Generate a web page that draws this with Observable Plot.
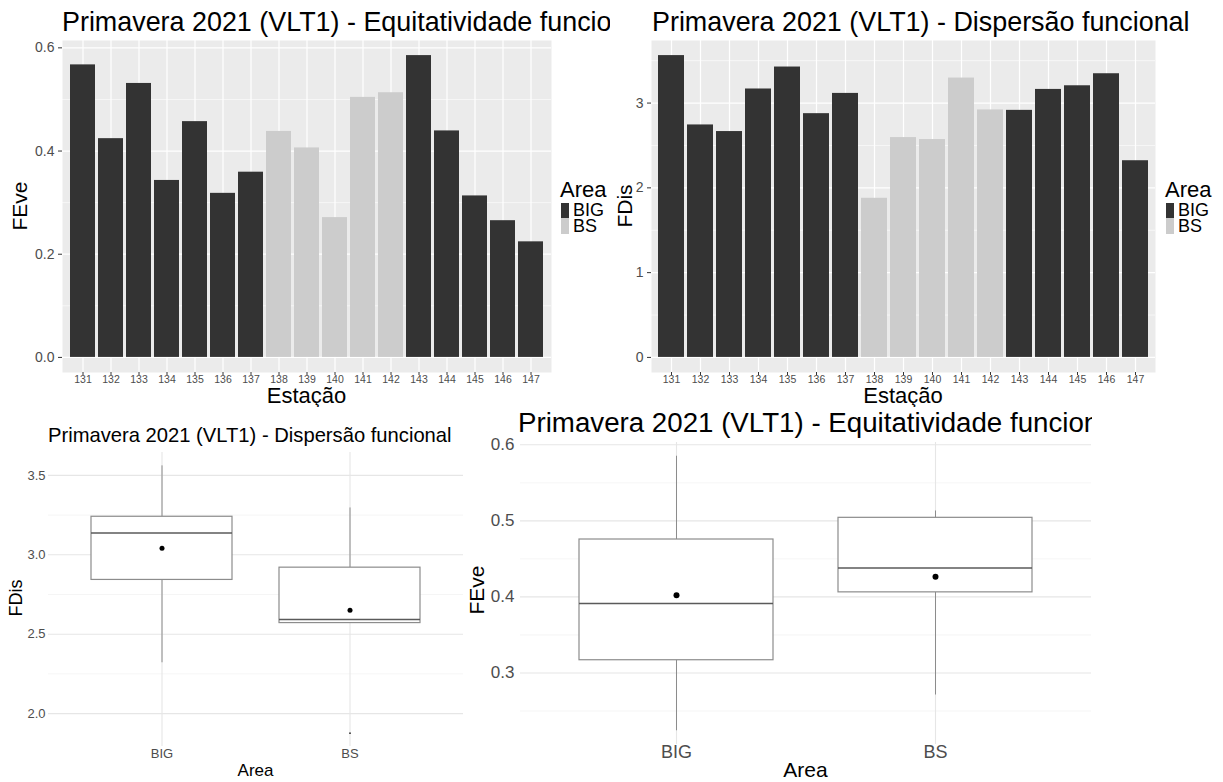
<!DOCTYPE html>
<html><head><meta charset="utf-8">
<script src="https://cdn.jsdelivr.net/npm/d3@7"></script>
<script src="https://cdn.jsdelivr.net/npm/@observablehq/plot@0.6"></script>
<style>
body{margin:0;background:#fff;}
#root{position:relative;width:1223px;height:782px;overflow:hidden;background:#fff;font-family:"Liberation Sans",Arial,Helvetica,sans-serif;}
.panel{position:absolute;overflow:hidden;}
.panel svg{position:absolute;left:0;top:0;}
.t{position:absolute;white-space:nowrap;line-height:0.8;color:#000;}
.key{position:absolute;}
</style></head><body><div id="root"></div>
<script>
// ---- data ----
const stations = ["131","132","133","134","135","136","137","138","139","140","141","142","143","144","145","146","147"];
const areas = ["BIG","BIG","BIG","BIG","BIG","BIG","BIG","BS","BS","BS","BS","BS","BIG","BIG","BIG","BIG","BIG"];
const feve = [0.567,0.424,0.531,0.343,0.457,0.318,0.359,0.438,0.406,0.271,0.504,0.513,0.585,0.439,0.313,0.265,0.224];
const fdis = [3.56,2.742,2.664,3.166,3.425,2.875,3.114,1.877,2.593,2.570,3.295,2.919,2.914,3.161,3.204,3.346,2.320];
const areaLevels = ["BIG","BS"];
const areaColors = ["#333333","#cccccc"];
const feveBarTicks = [0, 0.2, 0.4, 0.6];
const feveBarMinor = [0.1, 0.3, 0.5];
const fdisBarTicks = [0, 1, 2, 3];
const fdisBarMinor = [0.5, 1.5, 2.5, 3.5];
const fdisBoxTicks = [2.0, 2.5, 3.0, 3.5];
const fdisBoxMinor = [2.25, 2.75, 3.25];
const feveBoxTicks = [0.3, 0.4, 0.5, 0.6];
const feveBoxMinor = [0.25, 0.35, 0.45, 0.55];
const titleFEve = "Primavera 2021 (VLT1) - Equitatividade funcional";
const titleFDis = "Primavera 2021 (VLT1) - Dispersão funcional";

const rows = stations.map((s, i) => ({station: s, area: areas[i], FEve: feve[i], FDis: fdis[i]}));

const FONT = '"Liberation Sans", Arial, Helvetica, sans-serif';
const root = document.getElementById("root");

function panel(left, top, w, h) {
  const d = document.createElement("div");
  d.className = "panel";
  Object.assign(d.style, {left: left + "px", top: top + "px", width: w + "px", height: h + "px"});
  root.appendChild(d);
  return d;
}
function txt(parent, s, {x, y, size, anchor = "start", rotate = false, color = "#000"}) {
  const d = document.createElement("div");
  d.className = "t";
  d.textContent = s;
  d.style.fontSize = size + "px";
  d.style.color = color;
  d.style.left = x + "px";
  if (rotate) {
    d.style.top = y + "px";
    d.style.transform = "translate(-50%,-50%) rotate(-90deg)";
  } else {
    d.style.top = (y - 0.4 * size) + "px";
    if (anchor === "middle") d.style.transform = "translateX(-50%)";
  }
  parent.appendChild(d);
}
function legend(parent, x, y) {
  txt(parent, "Area", {x: x, y: y, size: 22});
  areaLevels.forEach((a, i) => {
    const k = document.createElement("div");
    k.className = "key";
    Object.assign(k.style, {left: (x + 1) + "px", top: (y + 13 + i * 15.5) + "px", width: "8px", height: "15.5px", background: areaColors[i]});
    parent.appendChild(k);
    txt(parent, a, {x: x + 13, y: y + 20.5 + i * 16.5, size: 18});
  });
}
function expandDomain(vals, withZero) {
  const lo = withZero ? Math.min(0, d3.min(vals)) : d3.min(vals);
  const hi = d3.max(vals);
  const p = 0.05 * (hi - lo);
  return [lo - p, hi + p];
}

function barPlot(key, ticks, minor, fmt, width, marginLeft, marginRight) {
  return Plot.plot({
    width, height: 407,
    marginLeft, marginRight, marginTop: 40, marginBottom: 35,
    x: {type: "band", domain: stations, paddingInner: 0.1, paddingOuter: 0.15},
    y: {domain: expandDomain(rows.map(d => d[key]), true)},
    color: {domain: areaLevels, range: areaColors},
    style: {fontFamily: FONT, background: "transparent", overflow: "visible"},
    marks: [
      Plot.frame({fill: "#ebebeb", stroke: null}),
      Plot.ruleY(minor, {stroke: "#fff", strokeWidth: 0.6}),
      Plot.ruleY(ticks, {stroke: "#fff", strokeWidth: 1.2}),
      Plot.ruleX(stations, {stroke: "#fff", strokeWidth: 1.2}),
      Plot.barY(rows, {x: "station", y: key, fill: "area", inset: 0}),
      Plot.axisY({ticks, tickFormat: fmt, tickSize: 4, tickPadding: 4, fontSize: 14, stroke: "#333", fill: "#4d4d4d", label: null}),
      Plot.axisX({tickSize: 3, tickPadding: 0.5, fontSize: 10.5, stroke: "#333", fill: "#4d4d4d", label: null})
    ]
  });
}

function boxStats(key) {
  const box = [], out = [];
  areaLevels.forEach(a => {
    const v = rows.filter(r => r.area === a).map(r => r[key]).sort(d3.ascending);
    const q1 = d3.quantile(v, 0.25), med = d3.quantile(v, 0.5), q3 = d3.quantile(v, 0.75);
    const iqr = q3 - q1;
    const inside = v.filter(x => x >= q1 - 1.5 * iqr && x <= q3 + 1.5 * iqr);
    v.filter(x => !inside.includes(x)).forEach(x => out.push({area: a, value: x}));
    box.push({area: a, q1, med, q3, lo: d3.min(inside), hi: d3.max(inside), mean: d3.mean(v)});
  });
  return {box, out};
}

function boxPlot(key, ticks, minor, o) {
  const {box, out} = boxStats(key);
  return Plot.plot({
    width: o.width, height: 377,
    marginLeft: o.ml, marginRight: o.mr, marginTop: o.mt, marginBottom: o.mb,
    x: {type: "band", domain: areaLevels, paddingInner: 0.25, paddingOuter: 0.225},
    y: {domain: expandDomain(rows.map(d => d[key]), false)},
    style: {fontFamily: FONT, background: "transparent", overflow: "visible"},
    marks: [
      Plot.ruleY(minor, {stroke: "#efefef", strokeWidth: 0.6}),
      Plot.ruleY(ticks, {stroke: "#e6e6e6", strokeWidth: 1.1}),
      Plot.ruleX(areaLevels, {stroke: "#e6e6e6", strokeWidth: 1.1}),
      Plot.ruleX(box, {x: "area", y1: "lo", y2: "q1", stroke: "#8c8c8c", strokeWidth: 1}),
      Plot.ruleX(box, {x: "area", y1: "q3", y2: "hi", stroke: "#8c8c8c", strokeWidth: 1}),
      Plot.barY(box, {x: "area", y1: "q1", y2: "q3", fill: "white", stroke: "#8c8c8c", strokeWidth: 1.2}),
      Plot.tickY(box, {x: "area", y: "med", stroke: "#5a5a5a", strokeWidth: 1.5}),
      Plot.dot(box, {x: "area", y: "mean", r: o.r, fill: "black", stroke: null}),
      Plot.dot(out, {x: "area", y: "value", r: 0.9, fill: "#333", stroke: null}),
      Plot.axisY({ticks, tickFormat: d => d.toFixed(1), tickSize: 0, tickPadding: o.typ, fontSize: o.fy, fill: "#4d4d4d", label: null}),
      Plot.axisX({tickSize: 0, tickPadding: o.txp, fontSize: o.fx, fill: "#4d4d4d", label: null})
    ]
  });
}

// ---- top-left: FEve bars ----
const tl = panel(0, 0, 610, 407);
tl.appendChild(barPlot("FEve", feveBarTicks, feveBarMinor, d => d.toFixed(1), 610, 62, 59));
txt(tl, titleFEve, {x: 62, y: 22.4, size: 26.9});
txt(tl, "FEve", {x: 20, y: 206, size: 21, rotate: true});
txt(tl, "Estação", {x: 306.5, y: 396, size: 22, anchor: "middle"});
legend(tl, 560, 189.5);

// ---- top-right: FDis bars ----
const tr = panel(610, 0, 613, 407);
tr.appendChild(barPlot("FDis", fdisBarTicks, fdisBarMinor, d => d.toFixed(0), 613, 41, 68));
txt(tr, titleFDis, {x: 42, y: 22.4, size: 26.9});
txt(tr, "FDis", {x: 15, y: 206, size: 21, rotate: true});
txt(tr, "Estação", {x: 293, y: 396, size: 22, anchor: "middle"});
legend(tr, 555, 189.5);

// ---- bottom-left: FDis box ----
const bl = panel(0, 405, 465, 377);
bl.appendChild(boxPlot("FDis", fdisBoxTicks, fdisBoxMinor, {width: 465, ml: 48, mr: 2, mt: 47, mb: 36, r: 2.5, fy: 13, fx: 13, typ: 3, txp: 2}));
txt(bl, titleFDis, {x: 48, y: 30.5, size: 20.2});
txt(bl, "FDis", {x: 16, y: 193, size: 18, rotate: true});
txt(bl, "Area", {x: 255.5, y: 366, size: 17, anchor: "middle"});

// ---- bottom-right: FEve box ----
const br = panel(465, 405, 627, 377);
br.appendChild(boxPlot("FEve", feveBoxTicks, feveBoxMinor, {width: 627, ml: 55, mr: 1, mt: 37, mb: 38, r: 3, fy: 17, fx: 18, typ: 6, txp: 1}));
txt(br, titleFEve, {x: 53, y: 18.5, size: 27.7});
txt(br, "FEve", {x: 12, y: 185, size: 21, rotate: true});
txt(br, "Area", {x: 340.5, y: 365.5, size: 21, anchor: "middle"});
</script></body></html>
